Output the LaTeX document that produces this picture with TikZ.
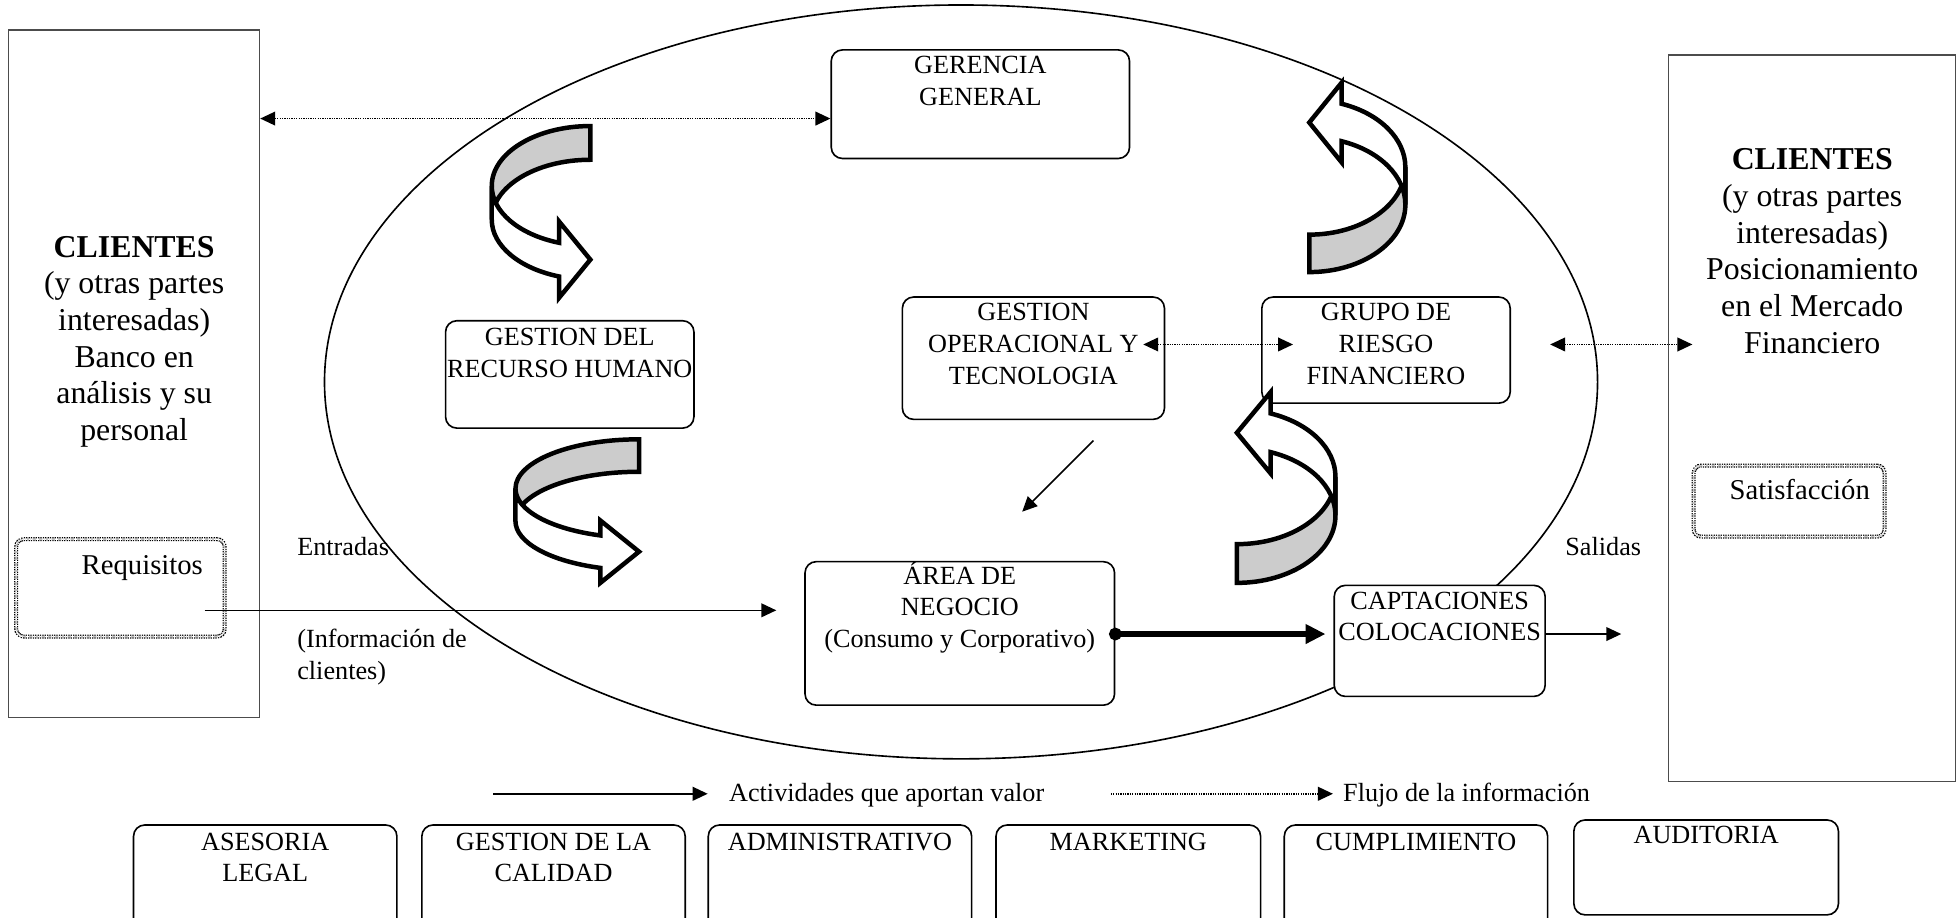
\documentclass[tikz,border=0pt]{standalone}
\usepackage{fontspec}
\setmainfont{Liberation Serif}
\usetikzlibrary{arrows.meta}
\newcommand\fa{\fontsize{21}{25.3}\selectfont}
\newcommand\fb{\fontsize{25.5}{29.4}\selectfont}
\newcommand\fc{\fontsize{23}{27}\selectfont}
% curved 3D ribbon arrow: cx, cy, rotation, rx, ry, thickness, head length, barb
\newcommand\uarrow[8]{%
  \pgfmathsetmacro\uaph{acos(-(#7)/(#4))}%
  \pgfmathsetmacro\uayb{(#5)*sin(\uaph)}%
  \begin{scope}[shift={(#1,#2)},rotate=#3]
    \filldraw[uar,fill=black!20] (0,-#5) arc[start angle=270,end angle=180,x radius=#4,y radius=#5]
      -- ++(0,#6) arc[start angle=180,end angle=270,x radius=#4,y radius=#5] -- cycle;
    \filldraw[uar,fill=white] (-#4,0) arc[start angle=180,end angle=\uaph,x radius=#4,y radius=#5]
      -- (-#7,\uayb-#8) -- (0,\uayb+#6/2) -- (-#7,\uayb+#6+#8) -- (-#7,\uayb+#6)
      arc[start angle=\uaph,end angle=180,x radius=#4,y radius=#5] -- cycle;
  \end{scope}}
\begin{document}
\begin{tikzpicture}[x=1pt,y=-1pt,
  rbox/.style={draw, rounded corners=9pt, line width=1.3pt, fill=white, inner sep=0pt},
  sbox/.style={draw=black!70, line width=1pt, fill=white, inner sep=0pt},
  dbox/.style={draw, dash pattern=on 1pt off 0.9pt, double, double distance=1.2pt, line width=1pt, rounded corners=6pt, inner sep=0pt},
  txt/.style={inner sep=0pt, align=center, font=\fa},
  lbl/.style={inner sep=0pt, font=\fa},
  uar/.style={line width=3.6pt, line join=miter, draw=black},
  infoarr/.style={line width=1.2pt, dash pattern=on 1pt off 0.9pt, {Triangle[length=12pt,width=11pt]}-{Triangle[length=12pt,width=11pt]}},
  infoone/.style={line width=1.2pt, dash pattern=on 1pt off 0.9pt, -{Triangle[length=12pt,width=11pt]}},
  valarr/.style={line width=1.3pt, -{Triangle[length=12pt,width=11pt]}},
  bigarr/.style={line width=5pt, {Circle[length=10pt]}-{Triangle[length=16pt,width=15pt]}},
]
\useasboundingbox (0,0) rectangle (1568,735);
\clip (0,0) rectangle (1568,735);
\fill[white] (0,0) rectangle (1568,735);

% side boxes
\node[sbox, minimum width=201pt, minimum height=551pt] (cliL) at (107.5,299.5) {};
\node[sbox, minimum width=230pt, minimum height=582pt] (cliR) at (1452,335) {};

% organisation ellipse
\draw[line width=1.3pt] (770,306) ellipse [x radius=510, y radius=302];

% dotted boxes
\node[dbox, minimum width=167pt, minimum height=78pt] (req) at (96.5,471) {};
\node[dbox, minimum width=153pt, minimum height=57pt] (sat) at (1433.5,401.5) {};

% rounded boxes
\node[rbox, minimum width=239pt, minimum height=87pt] (ger) at (785.5,83.5) {};
\node[rbox, minimum width=199pt, minimum height=86pt] (grh) at (456.5,300) {};
\node[rbox, minimum width=210pt, minimum height=98pt] (gop) at (828,287) {};
\node[rbox, minimum width=199pt, minimum height=85pt] (grf) at (1110.5,280.5) {};
\node[rbox, minimum width=248pt, minimum height=115pt] (area) at (769,507.5) {};
\node[rbox, minimum width=169pt, minimum height=89pt] (capt) at (1153.5,513.5) {};

\node[rbox, minimum width=211pt, minimum height=109pt] (ase) at (212.5,715.5) {};
\node[rbox, minimum width=211pt, minimum height=109pt] (cal) at (443.5,715.5) {};
\node[rbox, minimum width=211pt, minimum height=109pt] (adm) at (673,715.5) {};
\node[rbox, minimum width=212pt, minimum height=109pt] (mkt) at (904,715.5) {};
\node[rbox, minimum width=211pt, minimum height=109pt] (cum) at (1134.5,715.5) {};
\node[rbox, minimum width=212pt, minimum height=76pt] (aud) at (1367,695) {};

% curved ribbon arrows
\uarrow{473}{149}{0}{79}{48}{27}{25}{17}
\uarrow{512}{391.5}{0}{99}{39.5}{26}{31}{12}
\uarrow{1049}{164}{180}{77}{54}{30}{26}{17}
\uarrow{991}{413}{180}{79}{54}{31}{27}{17}

% texts
\node[txt,anchor=north] (tger) at (785.5,45) {GERENCIA\\GENERAL};
\node[txt,anchor=north] (tgrh) at (456.5,263) {GESTION DEL\\RECURSO HUMANO};
\node[txt,anchor=north] (tgop) at (828,243) {GESTION\\OPERACIONAL Y\\TECNOLOGIA};
\node[txt,anchor=north] (tgrf) at (1110.5,243) {GRUPO DE\\RIESGO\\FINANCIERO};
\node[txt,anchor=north] (tarea) at (769,450) {ÁREA DE\\NEGOCIO\\(Consumo y Corporativo)};
\node[txt,anchor=north] (tcap) at (1153.5,474) {CAPTACIONES\\COLOCACIONES};

\node[txt,anchor=north] (tase) at (212.5,667) {ASESORIA\\LEGAL};
\node[txt,anchor=north] (tcal) at (443.5,667) {GESTION DE LA\\CALIDAD};
\node[txt,anchor=north] (tadm) at (673,667) {ADMINISTRATIVO};
\node[txt,anchor=north] (tmkt) at (904,667) {MARKETING};
\node[txt,anchor=north] (tcum) at (1134.5,667) {CUMPLIMIENTO};
\node[txt,anchor=north] (taud) at (1367,662) {AUDITORIA};

\node[txt,font=\fb,anchor=north] (tcliL) at (107.5,189) {\textbf{CLIENTES}\\(y otras partes\\interesadas)\\Banco en\\análisis y su\\personal};
\node[txt,font=\fb,anchor=north] (tcliR) at (1452,119) {\textbf{CLIENTES}\\(y otras partes\\interesadas)\\Posicionamiento\\en el Mercado\\Financiero};

\node[lbl,anchor=base west] (ent) at (238,445) {Entradas};
\node[lbl,anchor=north west,align=left] (inf) at (238,504) {(Información de\\clientes)};
\node[lbl,anchor=base west] (sal) at (1254,445) {Salidas};
\node[lbl,font=\fc,anchor=base] (treq) at (114,460) {Requisitos};
\node[lbl,font=\fc,anchor=base] (tsat) at (1442,400) {Satisfacción};
\node[lbl,anchor=base west] (lg1) at (584,642) {Actividades que aportan valor};
\node[lbl,anchor=base west] (lg2) at (1076,642) {Flujo de la información};

% connectors
\coordinate (yg) at (0,95);
\draw[infoarr] (cliL.east |- yg) -- (ger.west |- yg);
\coordinate (o1) at (916,276); \coordinate (o2) at (1036,276);
\draw[infoarr] (o1) -- (o2);
\coordinate (r1) at (1242,276); \coordinate (r2) at (1356,276);
\draw[infoarr] (r1) -- (r2);
\coordinate (q1) at (164,489); \coordinate (q2) at (622,489);
\draw[valarr] (q1) -- (q2);
\coordinate (d1) at (876,353); \coordinate (d2) at (819,410);
\draw[valarr] (d1) -- (d2);
\coordinate (yb) at (0,508);
\coordinate (c2) at (1062,508);
\draw[bigarr] ([xshift=-5pt]area.east |- yb) -- (c2);
\coordinate (s2) at (1299,508);
\draw[valarr] (capt.east |- yb) -- (s2);
\coordinate (l1a) at (395,636); \coordinate (l1b) at (567,636);
\draw[valarr] (l1a) -- (l1b);
\coordinate (l2a) at (890,636); \coordinate (l2b) at (1068,636);
\draw[infoone] (l2a) -- (l2b);
\end{tikzpicture}
\end{document}
